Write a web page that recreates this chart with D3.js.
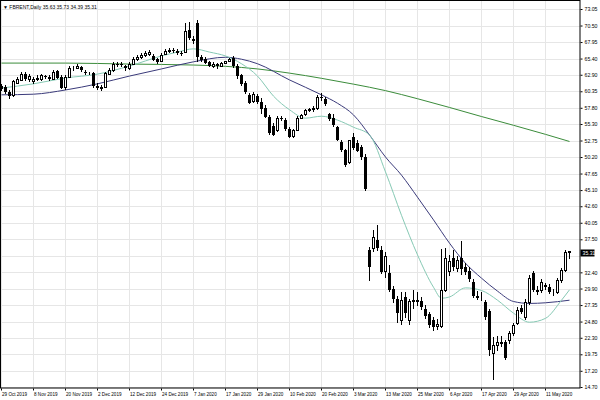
<!DOCTYPE html>
<html>
<head>
<meta charset="utf-8">
<script src="https://cdn.jsdelivr.net/npm/d3@7"></script>
<style>
  body { margin: 0; background: #fff; }
  svg { display: block; }
  text { font-family: "Liberation Sans", Arial, sans-serif; }
</style>
</head>
<body>
<svg id="chart" width="600" height="400"></svg>
<script>
// daily bars, 29 Oct 2019 .. 19 May 2020 (one entry per trading day)
var opens = [61.1,61.0,60.3,59.7,61.7,62.1,63.0,62.2,61.9,62.3,62.3,62.7,62.6,62.3,63.5,62.6,61.0,62.6,63.9,64.0,
  64.1,63.3,63.1,63.1,61.2,60.8,61.0,63.0,63.6,64.6,64.5,64.3,63.9,64.6,65.3,65.6,65.9,66.1,65.8,65.3,
  65.0,66.1,66.6,66.7,66.6,66.2,66.4,69.8,68.4,70.9,65.7,65.3,64.9,64.3,64.5,64.3,64.7,65.0,65.5,64.3,
  62.8,61.6,59.7,58.8,59.6,58.7,57.8,56.4,55.0,54.4,56.2,55.9,54.6,53.5,54.4,56.2,56.8,57.4,57.6,57.7,
  59.4,59.2,56.9,56.3,54.8,52.5,51.3,49.4,53.3,52.4,51.8,50.2,35.8,36.2,37.4,35.9,32.6,32.3,29.9,28.3,
  25.0,28.6,25.1,27.9,28.0,28.0,26.8,26.0,25.0,24.1,24.1,29.7,32.6,34.6,33.0,34.6,33.2,32.6,30.9,28.6,
  28.6,27.8,26.5,19.9,21.2,21.5,21.7,21.9,23.0,24.6,26.9,25.5,27.8,32.3,29.6,29.7,30.4,30.1,29.4,29.3,
  31.2,32.8,35.63];
var highs = [61.4,61.3,60.5,62.1,62.5,63.3,63.4,63.0,62.6,62.8,63.0,62.9,62.8,63.6,63.7,62.9,62.8,64.2,64.3,64.6,
  64.2,63.6,63.4,63.4,61.6,61.3,63.3,63.9,64.8,64.9,64.8,64.4,64.8,65.6,65.9,66.2,66.5,66.7,66.1,65.5,
  66.2,66.8,67.1,67.0,66.8,66.6,70.9,71.0,68.9,71.3,66.0,65.6,65.1,64.8,64.7,64.9,65.1,65.5,65.8,64.6,
  63.0,62.0,60.1,60.2,60.0,59.3,58.3,56.7,55.4,56.6,56.5,56.2,54.9,54.6,56.6,56.9,57.6,57.8,58.0,59.7,
  60.1,59.4,57.0,56.9,55.0,52.8,51.5,52.9,53.9,52.8,52.1,50.6,36.3,38.9,39.7,36.4,35.5,33.5,30.3,28.8,
  29.4,29.3,28.3,29.6,29.4,28.6,27.3,26.3,25.5,25.2,36.0,36.1,35.0,35.8,34.9,37.3,33.8,33.2,31.4,29.5,
  29.4,28.2,26.8,22.4,22.5,22.5,22.0,23.3,24.6,27.0,27.4,28.3,32.0,32.6,30.3,31.4,30.8,30.6,29.9,31.5,
  33.1,35.9,35.73];
var lows = [60.4,60.0,59.2,59.5,61.4,61.9,62.0,61.8,61.5,61.9,62.0,62.2,61.9,62.1,62.2,60.7,60.6,62.4,63.5,63.8,
  63.3,62.9,62.8,60.9,60.6,60.4,60.8,62.8,63.4,64.1,64.1,63.5,63.7,64.4,65.1,65.3,65.6,65.8,65.0,64.6,
  64.8,65.9,66.3,66.3,66.0,65.8,66.2,68.2,67.6,64.9,64.9,64.5,64.1,63.9,63.8,64.1,64.5,64.8,64.0,62.3,
  61.2,60.0,58.4,58.5,58.4,56.8,56.2,53.6,53.4,54.1,55.8,54.2,53.1,53.2,54.2,56.0,56.6,57.1,57.2,57.5,
  58.9,58.1,55.7,54.9,52.6,50.9,48.6,49.1,51.3,50.9,49.8,45.0,31.0,35.6,35.7,32.2,31.5,29.3,27.6,24.6,
  24.3,25.4,24.2,26.8,27.2,26.6,25.2,23.8,23.4,23.5,23.8,29.3,31.8,32.6,32.4,32.0,32.0,30.9,28.4,28.2,
  27.9,25.1,19.5,15.8,20.2,20.8,18.9,21.4,22.6,24.3,25.9,25.1,27.3,29.3,28.9,29.2,29.6,29.1,28.8,29.0,
  30.8,32.5,34.39];
var closes = [60.7,60.3,59.6,61.9,62.2,63.0,62.2,62.7,62.3,62.4,62.8,62.6,62.2,63.4,62.4,60.9,62.5,63.9,64.0,64.2,
  63.6,63.1,63.1,61.1,60.8,61.0,63.1,63.6,64.6,64.5,64.4,63.9,64.6,65.4,65.7,65.9,66.2,66.4,65.2,64.9,
  66.0,66.6,66.7,66.6,66.2,66.1,69.7,68.5,68.1,65.6,65.2,64.7,64.3,64.5,64.3,64.7,65.0,65.3,64.3,62.7,
  61.4,60.2,58.6,59.9,58.7,57.6,56.4,53.9,53.6,56.3,56.1,54.5,53.3,54.3,56.3,56.7,57.4,57.6,57.8,59.4,
  59.3,58.4,56.0,55.2,52.9,51.3,49.0,52.8,51.6,51.2,50.2,45.2,33.3,37.9,36.2,32.5,34.9,29.7,28.3,26.1,
  28.1,26.2,27.9,28.1,28.1,27.0,25.6,24.3,23.9,24.5,29.7,34.6,34.2,33.2,34.3,32.9,32.5,31.3,28.8,28.8,
  28.6,25.5,20.4,21.2,21.7,21.6,19.2,23.0,24.3,26.6,26.3,27.8,31.6,29.7,29.4,30.9,30.2,29.4,29.4,31.2,
  32.8,35.5,35.31];

// date labels on the time axis (bar index, text)
var dateIdx = [0,8,16,24,32,40,48,56,64,72,80,88,96,104,112,120,128,136];
var dateLabels = ["29 Oct 2019","8 Nov 2019","20 Nov 2019","2 Dec 2019","12 Dec 2019","24 Dec 2019",
  "7 Jan 2020","17 Jan 2020","29 Jan 2020","10 Feb 2020","20 Feb 2020","3 Mar 2020","13 Mar 2020",
  "25 Mar 2020","6 Apr 2020","17 Apr 2020","29 Apr 2020","11 May 2020"];

// price labels on the right scale
var priceTicks = [73.05,70.50,67.95,65.40,62.90,60.35,57.80,55.30,52.75,50.20,47.65,45.10,42.60,40.05,
  37.50,34.95,32.40,29.90,27.35,24.80,22.30,19.75,17.20,14.70];

// moving averages
var slowIdx = [0,16,32,48,56,64,72,80,88,96,104,112,120,128,136,142];
var slowMA = [64.7,64.7,64.55,64.4,64.2,63.8,63.15,62.35,61.45,60.45,59.2,57.85,56.45,55.1,53.7,52.6];
var midIdx = [0,8,16,24,32,40,48,56,60,64,72,80,84,88,92,96,100,104,108,112,116,120,124,128,132,136,142];
var midMA = [59.8,59.9,60.55,61.5,62.7,63.8,64.9,65.6,65.3,64.6,62.1,59.8,58.5,56.7,53.6,50.2,47.4,44.0,40.5,
  36.9,33.8,31.5,29.5,27.9,27.6,27.7,28.1];
var fastIdx = [0,8,16,24,32,40,44,48,52,56,60,64,68,72,76,80,84,88,92,96,100,104,108,110,112,116,120,124,128,132,136,140,142];
var fastMA = [60.85,61.5,62.4,63.0,64.25,65.8,66.4,66.9,66.4,65.8,64.6,62.7,59.6,57.5,56.2,56.5,55.9,54.8,53.6,
  47.9,41.2,35.1,30.1,28.4,28.6,30.0,29.6,28.1,26.1,24.7,25.3,28.1,29.7];

var svg = d3.select("#chart");
var plotL = 0, plotR = 580, plotT = 0, plotB = 388;

var x = d3.scaleLinear().domain([0, 142]).range([1.5, 569.5]);
var y = d3.scaleLinear().domain([14.70, 73.05]).range([387, 9]);

// grid
var grid = svg.append("g").attr("stroke", "#e6e6e6").attr("stroke-width", 1);
grid.selectAll("line.v").data(dateIdx).enter().append("line")
  .attr("x1", function(d){ return x(d); }).attr("x2", function(d){ return x(d); })
  .attr("y1", plotT).attr("y2", plotB);
grid.selectAll("line.h").data(priceTicks).enter().append("line")
  .attr("x1", plotL).attr("x2", plotR)
  .attr("y1", function(d){ return Math.round(y(d)) + 0.5; })
  .attr("y2", function(d){ return Math.round(y(d)) + 0.5; });

// moving averages
function maLine(idx, vals, color) {
  var pts = idx.map(function(d, k){ return [x(d), y(vals[k])]; });
  svg.append("path").datum(pts)
    .attr("fill", "none").attr("stroke", color).attr("stroke-width", 1)
    .attr("d", d3.line().curve(d3.curveMonotoneX));
}
maLine(slowIdx, slowMA, "#3b8c3b");
maLine(midIdx, midMA, "#3a3a7a");
maLine(fastIdx, fastMA, "#86c9b4");

// candles
var bars = d3.range(opens.length);
var cg = svg.append("g");
cg.selectAll("line.wick").data(bars).enter().append("line")
  .attr("x1", function(i){ return x(i); }).attr("x2", function(i){ return x(i); })
  .attr("y1", function(i){ return Math.round(y(highs[i])); })
  .attr("y2", function(i){ return Math.round(y(lows[i])); })
  .attr("stroke", "#000").attr("stroke-width", 1);
cg.selectAll("rect.body").data(bars).enter().append("rect")
  .each(function(i){
    var top = Math.round(y(Math.max(opens[i], closes[i])));
    var bot = Math.round(y(Math.min(opens[i], closes[i])));
    var r = d3.select(this);
    if (closes[i] >= opens[i]) {
      r.attr("x", x(i) - 1).attr("width", 2)
       .attr("y", top + 0.5).attr("height", Math.max(bot - top, 0))
       .attr("fill", "#fff").attr("stroke", "#000").attr("stroke-width", 1);
    } else {
      r.attr("x", x(i) - 1.5).attr("width", 3)
       .attr("y", top).attr("height", Math.max(bot - top, 1))
       .attr("fill", "#000");
    }
  });

// frame
svg.append("rect").attr("x", 0.5).attr("y", 0.5).attr("width", plotR - 0.5).attr("height", plotB - 0.5)
  .attr("fill", "none").attr("stroke", "#000").attr("stroke-width", 1);

// right price axis
var yAxis = d3.axisRight(y).tickValues(priceTicks).tickFormat(d3.format(".2f")).tickSize(2).tickPadding(2);
var ya = svg.append("g").attr("transform", "translate(" + (plotR + 0.5) + ",0)").call(yAxis);
ya.select(".domain").remove();
ya.selectAll("text").attr("font-size", 5.2).attr("font-family", "Liberation Sans, Arial, sans-serif").attr("fill", "#000");
ya.selectAll(".tick").filter(function(d){ return d === 34.95; }).remove();

// bottom date axis
var xa = svg.append("g").attr("transform", "translate(0," + (plotB + 0.5) + ")");
xa.selectAll("line").data(dateIdx).enter().append("line")
  .attr("x1", function(d){ return x(d); }).attr("x2", function(d){ return x(d); })
  .attr("y1", 0).attr("y2", 2).attr("stroke", "#000");
xa.selectAll("text").data(dateIdx).enter().append("text")
  .attr("x", function(d){ return x(d) + 0.5; }).attr("y", 7.5)
  .attr("font-size", 4.6).attr("fill", "#000")
  .text(function(d, k){ return dateLabels[k]; });

// last price marker
var lastClose = closes[closes.length - 1];
svg.append("rect").attr("x", plotR + 0.5).attr("y", Math.round(y(lastClose)) - 3.5).attr("width", 14).attr("height", 7).attr("fill", "#000");
svg.append("text").attr("x", plotR + 2.5).attr("y", y(lastClose) + 1.9).attr("font-size", 5.2).attr("fill", "#fff")
  .text(d3.format(".2f")(lastClose));

// title
svg.append("text").attr("x", 3).attr("y", 8.5).attr("font-size", 5).attr("fill", "#000")
  .text("\u25BC FBRENT,Daily  35.63 35.73 34.39 35.31");
</script>
</body>
</html>
